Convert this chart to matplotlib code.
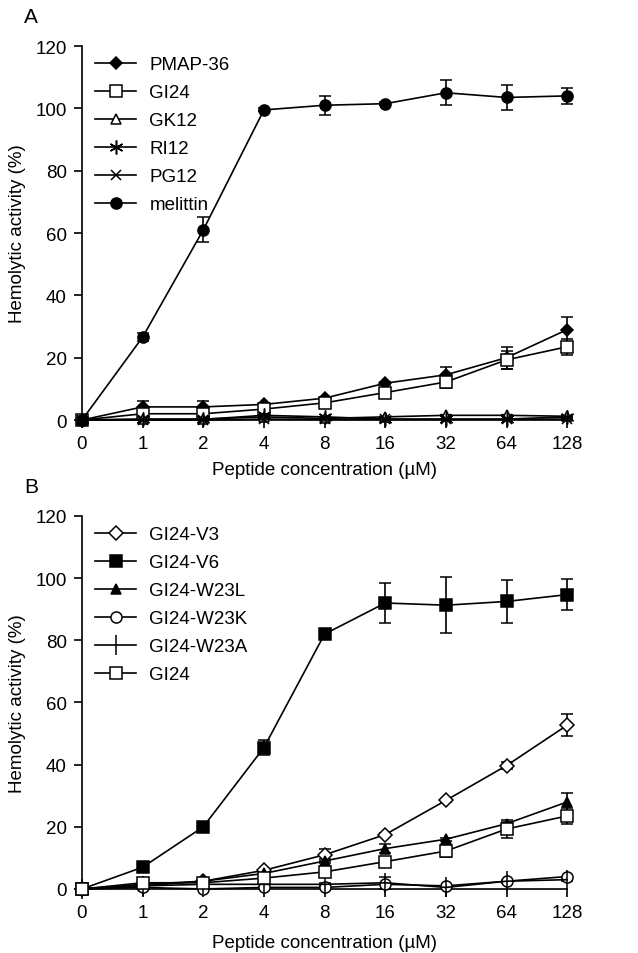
import numpy as np
import matplotlib
matplotlib.use("Agg")
import matplotlib.pyplot as plt
from matplotlib.lines import Line2D

plt.rcParams['font.family'] = ['Liberation Sans', 'DejaVu Sans']

conc_labels = ["0", "1", "2", "4", "8", "16", "32", "64", "128"]

# panel A
pmap36 = [0, 4.2, 4.2, 5.0, 7.0, 11.8, 14.5, 20.0, 29.0]
pmap36_err = [0, 2.0, 2.0, 0.5, 0.5, 0.5, 2.5, 3.5, 4.0]
gi24 = [0, 2.0, 2.0, 3.5, 5.5, 8.8, 12.2, 19.3, 23.5]
gi24_err = [0, 0.5, 0.5, 0.5, 0.5, 0.5, 2.0, 3.0, 2.5]
gk12 = [0, 0.3, 0.3, 1.0, 0.5, 1.0, 1.5, 1.5, 1.2]
gk12_err = [0, 0, 0, 0, 0, 0, 0, 0, 0]
ri12 = [0, 0.2, 0.2, 1.5, 1.0, 0.3, 0.3, 0.3, 1.0]
ri12_err = [0, 0, 0, 0, 0, 0, 0, 0, 0]
pg12 = [0, 0, 0, 0.3, 0.2, 0.2, 0.2, 0.2, 0.3]
pg12_err = [0, 0, 0, 0, 0, 0, 0, 0, 0]
melittin = [0, 26.6, 61.0, 99.5, 101.0, 101.5, 105.0, 103.5, 104.0]
melittin_err = [0, 1.2, 4.0, 0.5, 3.0, 0.5, 4.0, 4.0, 2.5]

# panel B
v3 = [0, 1.5, 2.5, 6.0, 11.0, 17.5, 28.5, 39.7, 52.7]
v3_err = [0, 0.5, 0.5, 0.5, 2.0, 0.5, 0.5, 1.0, 3.5]
v6 = [0, 7.0, 20.0, 45.5, 82.0, 92.0, 91.3, 92.5, 94.7]
v6_err = [0, 0.5, 0.5, 2.5, 0.5, 6.5, 9.0, 7.0, 5.0]
w23l = [0, 1.0, 2.5, 5.0, 9.0, 13.0, 16.0, 21.0, 28.0]
w23l_err = [0, 0.3, 0.3, 0.5, 0.5, 1.5, 0.5, 0.5, 3.0]
w23k = [0, 0.5, 0.0, 0.5, 0.5, 1.5, 1.0, 2.5, 4.0]
w23k_err = [0, 0, 0, 0, 0, 0, 0, 0, 0]
w23a = [0, 1.0, 1.5, 1.5, 1.5, 2.0, 0.5, 2.5, 3.0]
w23a_err = [0, 0, 0, 0, 0.5, 2.0, 0, 0.5, 0.5]

series_a = [
    ("PMAP-36", pmap36, pmap36_err, "D", "black", 6),
    ("GI24", gi24, gi24_err, "s", "white", 8),
    ("GK12", gk12, gk12_err, "^", "white", 7),
    ("RI12", ri12, ri12_err, (6, 2, 0), "black", 10),
    ("PG12", pg12, pg12_err, "x", "black", 7),
    ("melittin", melittin, melittin_err, "o", "black", 8),
]
series_b = [
    ("GI24-V3", v3, v3_err, "D", "white", 7),
    ("GI24-V6", v6, v6_err, "s", "black", 8),
    ("GI24-W23L", w23l, w23l_err, "^", "black", 7),
    ("GI24-W23K", w23k, w23k_err, "o", "white", 8),
    ("GI24-W23A", w23a, w23a_err, "|", "black", 14),
    ("GI24", gi24, gi24_err, "s", "white", 8),
]

fig = plt.figure(figsize=(6.38, 9.54), dpi=100)
axA = fig.add_axes([0.1285, 0.5587, 0.7605, 0.392])
axB = fig.add_axes([0.1285, 0.0671, 0.7605, 0.391])

x = np.arange(len(conc_labels))

def draw(ax, series, letter, xpad):
    handles = []
    for name, vals, errs, mk, fc, ms in series:
        ax.errorbar(x, vals, yerr=errs, color="black", lw=1.2,
                    marker=mk, ms=ms, mfc=fc, mec="black", mew=1.1,
                    capsize=4, elinewidth=1.2, capthick=1.2,
                    clip_on=False, zorder=3)
        handles.append(Line2D([], [], color="black", lw=1.2, marker=mk, ms=ms,
                              mfc=fc, mec="black", mew=1.1, label=name))
    ax.set_xlim(0, 8)
    ax.set_ylim(0, 120)
    ax.set_xticks(x)
    ax.set_xticklabels(conc_labels)
    ax.set_yticks(np.arange(0, 121, 20))
    for s in ["top", "right"]:
        ax.spines[s].set_visible(False)
    for s in ["left", "bottom"]:
        ax.spines[s].set_linewidth(1.2)
    ax.tick_params(direction="out", length=6, width=1.2, labelsize=13.5, pad=5)
    ax.set_xlabel("Peptide concentration (\u00b5M)", fontsize=13.5, labelpad=xpad)
    ax.set_ylabel("Hemolytic activity (%)", fontsize=13.5, labelpad=7)
    ax.legend(handles=handles, loc="upper left", bbox_to_anchor=(0.0, 1.008),
              frameon=False, fontsize=13.5, handlelength=2.2,
              labelspacing=0.58, handletextpad=0.7, borderaxespad=0.3)
    ax.text(-0.12, 1.105, letter, transform=ax.transAxes, fontsize=15,
            va="top", ha="left")

draw(axA, series_a, "A", 6)
draw(axB, series_b, "B", 9)

fig.savefig("out.png", dpi=100)
